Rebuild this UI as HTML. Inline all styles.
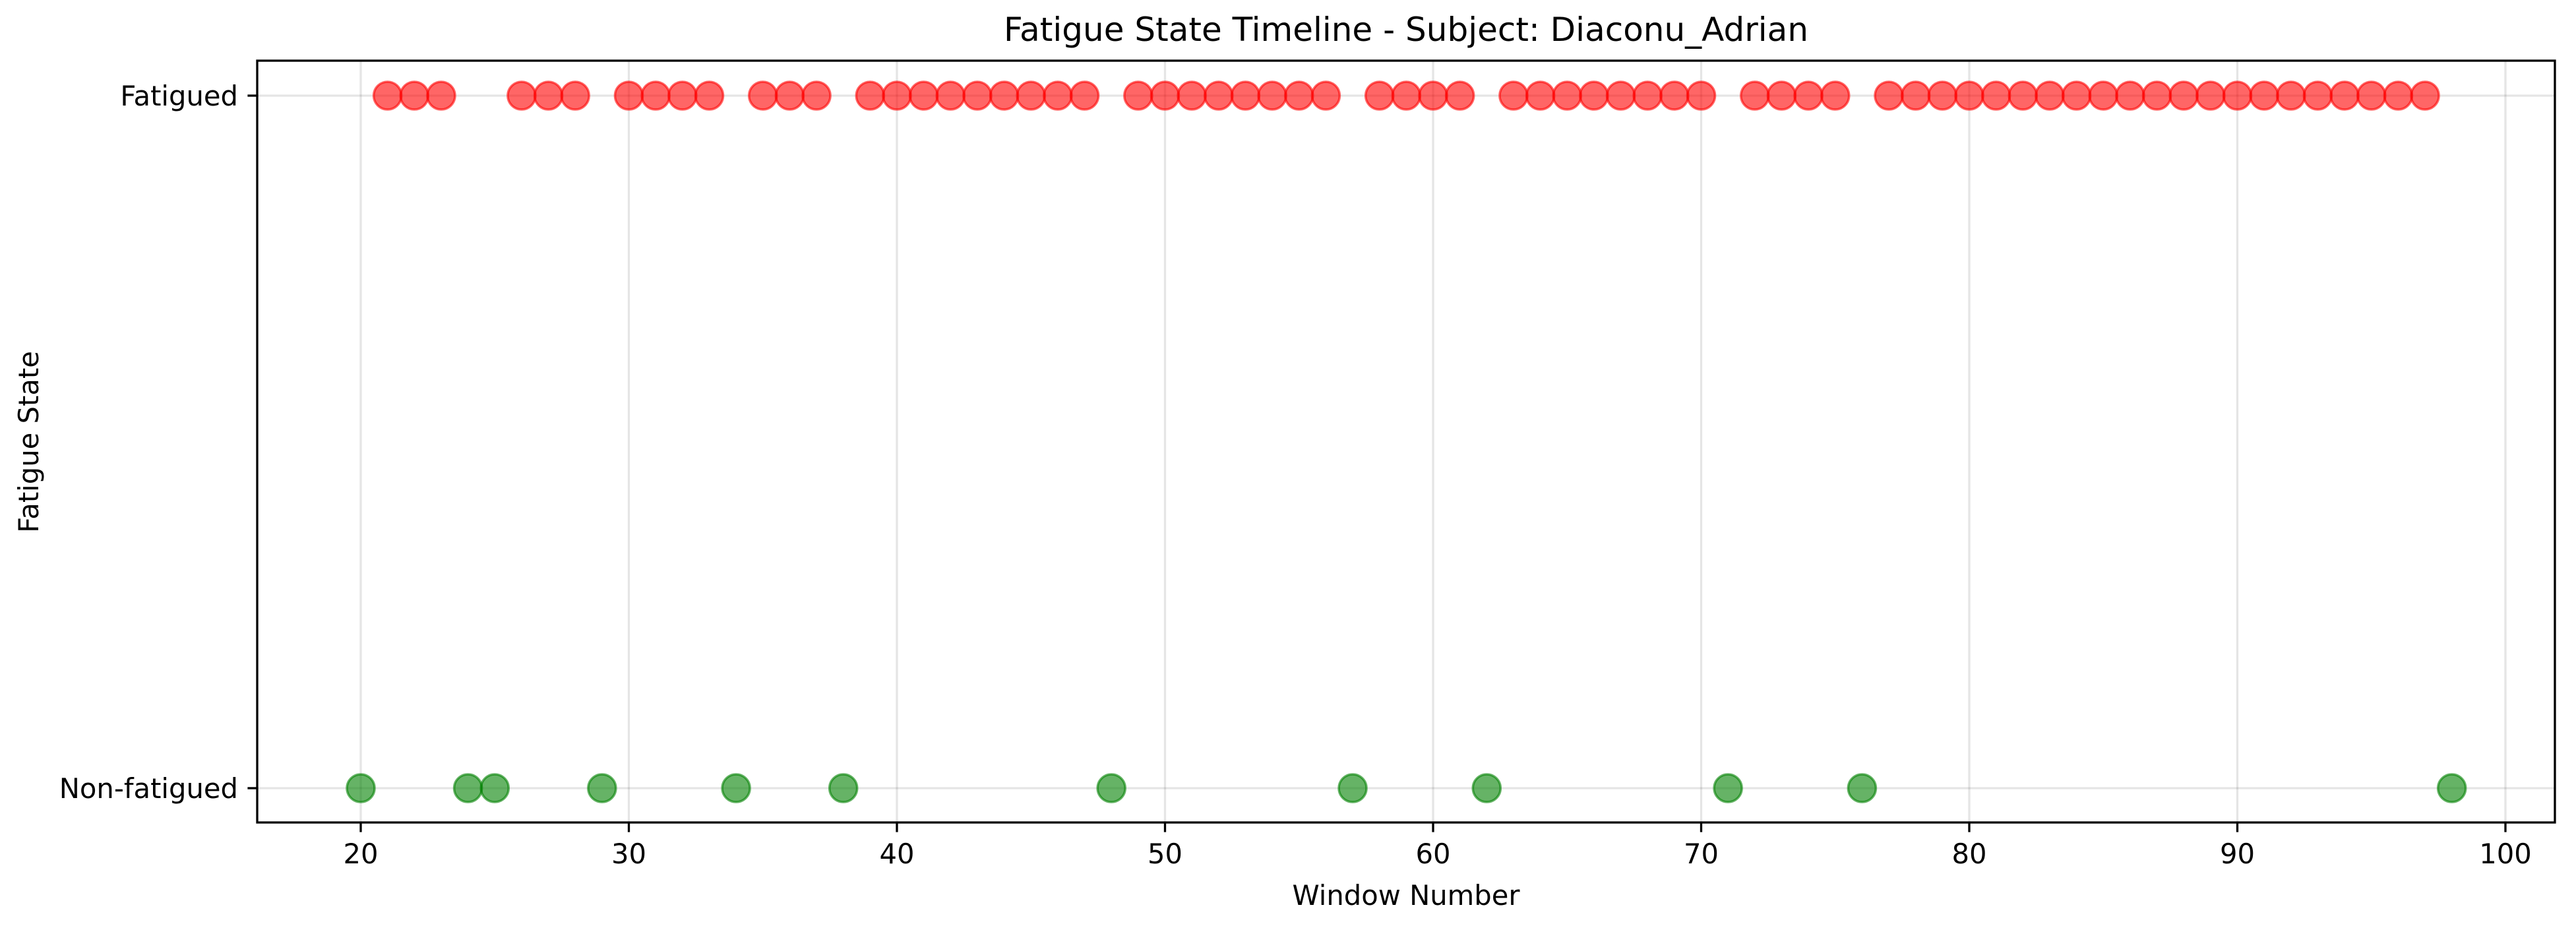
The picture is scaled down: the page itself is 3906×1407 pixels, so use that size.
<!DOCTYPE html>
<html><head><meta charset="utf-8"><style>
html,body{margin:0;padding:0;background:#fff;}
svg{display:block;font-family:"DejaVu Sans","Liberation Sans",sans-serif;}
</style></head><body>
<svg id="chart" width="3906" height="1407" viewBox="0 0 3906 1407" xmlns="http://www.w3.org/2000/svg">
<rect width="3906" height="1407" fill="#fff"/>
<g id="grid"></g>
<g id="marks"></g>
<g id="axes"></g>
<text x="2132" y="62" font-size="50" text-anchor="middle">Fatigue State Timeline - Subject: Diaconu_Adrian</text>
<text x="2132" y="1372" font-size="41.7" text-anchor="middle">Window Number</text>
<text x="58" y="670" font-size="41.7" text-anchor="middle" transform="rotate(-90 58 670)">Fatigue State</text>
</svg>
<script>
const fatiguedWindows = [21,22,23,26,27,28,30,31,32,33,35,36,37,39,40,41,42,43,44,45,46,47,49,50,51,52,53,54,55,56,58,59,60,61,63,64,65,66,67,68,69,70,72,73,74,75,77,78,79,80,81,82,83,84,85,86,87,88,89,90,91,92,93,94,95,96,97];
const nonFatiguedWindows = [20,24,25,29,34,38,48,57,62,71,76,98];
const xTicks = [20,30,40,50,60,70,80,90,100];
const yCategories = ["Non-fatigued","Fatigued"];

const NS = "http://www.w3.org/2000/svg";
const L = 390, R = 3874, T = 92, B = 1247;
const xMin = 16.05, xMax = 101.75;
function xs(v){ return 547 + (v - 20) * (3799 - 547) / 80; }
function ys(i){ return 1195 - i * (1195 - 145); }
function mk(tag, attrs, parent){ const e = document.createElementNS(NS, tag); for (const k in attrs) e.setAttribute(k, attrs[k]); parent.appendChild(e); return e; }
const grid = document.getElementById('grid'), marks = document.getElementById('marks'), axes = document.getElementById('axes');

xTicks.forEach(t => {
  const x = xs(t);
  const g = mk('line', {x1:x, x2:x, y1:T, y2:B, stroke:'#000', 'stroke-opacity':0.1, 'stroke-width':3.3}, grid);
  
  
  const tk = mk('line', {x1:x, x2:x, y1:B, y2:B+14.6, stroke:'#000', 'stroke-width':3.3}, axes);
  
  
  const lb = mk('text', {x:x, y:B+62, 'font-size':41.7, 'text-anchor':'middle'}, axes);
  lb.textContent = t;
  
  
});
yCategories.forEach((c, i) => {
  const y = ys(i);
  const g = mk('line', {x1:L, x2:R, y1:y, y2:y, stroke:'#000', 'stroke-opacity':0.1, 'stroke-width':3.3}, grid);
  
  
  const tk = mk('line', {x1:L-14.6, x2:L, y1:y, y2:y, stroke:'#000', 'stroke-width':3.3}, axes);
  
  
  const lb = mk('text', {x:L-29, y:y+15, 'font-size':41.7, 'text-anchor':'end'}, axes);
  lb.textContent = c;
  
  
});
const frame = mk('rect', {x:L, y:T, width:R-L, height:B-T, fill:'none', stroke:'#000', 'stroke-width':3.3}, axes);



nonFatiguedWindows.forEach(w => {
  const c = mk('circle', {cx:xs(w), cy:ys(0), r:21, fill:'green', 'fill-opacity':0.6, stroke:'green', 'stroke-opacity':0.6, 'stroke-width':3.5}, marks);
  
  
});
fatiguedWindows.forEach(w => {
  const c = mk('circle', {cx:xs(w), cy:ys(1), r:21, fill:'red', 'fill-opacity':0.6, stroke:'red', 'stroke-opacity':0.6, 'stroke-width':3.5}, marks);
  
  
});
</script>
</body></html>
